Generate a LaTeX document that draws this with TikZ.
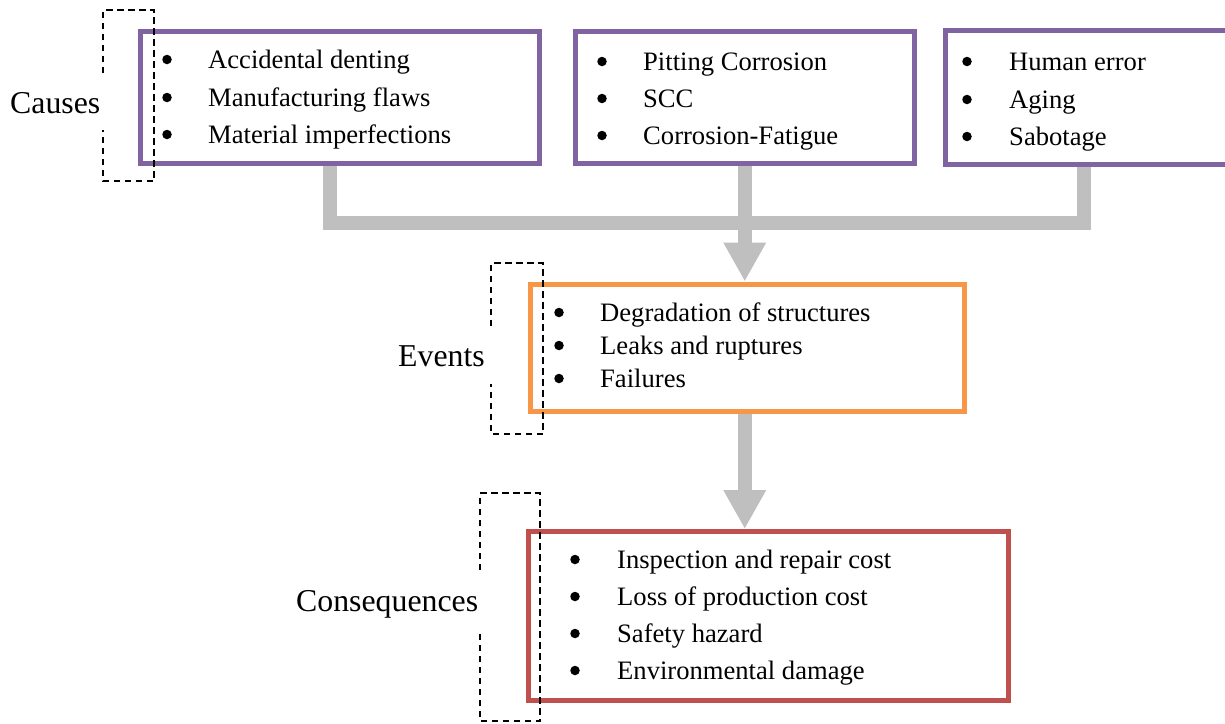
\documentclass[tikz,border=0pt]{standalone}
\usepackage{fontspec}
\setmainfont{Liberation Serif}
\usetikzlibrary{arrows.meta}
\definecolor{cpurple}{HTML}{8064A2}
\definecolor{corange}{HTML}{F79646}
\definecolor{cred}{HTML}{C0504D}
\definecolor{cgray}{HTML}{BFBFBF}
\tikzset{
  box/.style={draw, line width=5pt, inner sep=0pt, fill=none},
  txt/.style={anchor=base west, inner sep=0pt, font=\fontsize{26.6}{30}\selectfont},
  bul/.style={circle, fill=black, inner sep=0pt, minimum size=9.5pt, yshift=8.5pt},
  lbl/.style={anchor=base west, inner sep=0pt, font=\fontsize{31.8}{36}\selectfont},
  brk/.style={draw=black, line width=1.8pt, dash pattern=on 6.5pt off 4.5pt},
  conn/.style={draw=cgray, line width=14pt, line cap=butt, line join=miter},
  arr/.style={conn, -{Triangle[width=40pt,length=39pt]}, cgray}
}
\begin{document}
\begin{tikzpicture}[x=1pt,y=-1pt]
\useasboundingbox (0,0) rectangle (1225,723);
% boxes
\node[box, draw=cpurple, minimum width=398.5pt, minimum height=132pt] (c1) at (339.75,97) {};
\node[box, draw=cpurple, minimum width=338.5pt, minimum height=132pt] (c2) at (744.75,97) {};
\node[box, draw=cpurple, minimum width=290pt, minimum height=133.5pt] (c3) at (1090.5,97.25) {};
\node[box, draw=corange, minimum width=434pt, minimum height=127pt] (ev) at (747.5,347.5) {};
\node[box, draw=cred, minimum width=480pt, minimum height=169pt] (cq) at (768.5,616) {};
% connectors
\coordinate (jL) at (330,222.5);
\coordinate (jR) at (1084,222.5);
\draw[conn] (c1.south -| jL) -- (jL) -- (jR) -- (c3.south -| jR);
\draw[arr] (c2.south) -- (c2.south |- ev.north);
\draw[arr] (ev.south -| c2.south) -- (cq.north -| c2.south);
% dashed brackets
\draw[brk] (103,73) -- (103,10) -- (154,10) -- (154,181) -- (103,181) -- (103,130);
\draw[brk] (491,326) -- (491,263) -- (543,263) -- (543,434) -- (491,434) -- (491,384);
\draw[brk] (480,570) -- (480,493) -- (540,493) -- (540,721) -- (480,721) -- (480,633);
% labels
\node[lbl] (l1) at (10,113) {Causes};
\node[lbl] (l2) at (398,366) {Events};
\node[lbl] (l3) at (296,611) {Consequences};
% box 1
\node[bul] (b11) at (167,68) {};
\node[bul] (b12) at (167,106) {};
\node[bul] (b13) at (167,143) {};
\node[txt] (t11) at (208,68) {Accidental denting};
\node[txt] (t12) at (208,106) {Manufacturing flaws};
\node[txt] (t13) at (208,143) {Material imperfections};
% box 2
\node[bul] (b21) at (602,70) {};
\node[bul] (b22) at (602,107) {};
\node[bul] (b23) at (602,144) {};
\node[txt] (t21) at (643,70) {Pitting Corrosion};
\node[txt] (t22) at (643,107) {SCC};
\node[txt] (t23) at (643,144) {Corrosion-Fatigue};
% box 3
\node[bul] (b31) at (967,70) {};
\node[bul] (b32) at (967,108) {};
\node[bul] (b33) at (967,145) {};
\node[txt] (t31) at (1009,70) {Human error};
\node[txt] (t32) at (1009,108) {Aging};
\node[txt] (t33) at (1009,145) {Sabotage};
% events
\node[bul] (b41) at (559,321) {};
\node[bul] (b42) at (559,354) {};
\node[bul] (b43) at (559,387) {};
\node[txt] (t41) at (600,321) {Degradation of structures};
\node[txt] (t42) at (600,354) {Leaks and ruptures};
\node[txt] (t43) at (600,387) {Failures};
% consequences
\node[bul] (b51) at (575,568) {};
\node[bul] (b52) at (575,605) {};
\node[bul] (b53) at (575,642) {};
\node[bul] (b54) at (575,679) {};
\node[txt] (t51) at (617,568) {Inspection and repair cost};
\node[txt] (t52) at (617,605) {Loss of production cost};
\node[txt] (t53) at (617,642) {Safety hazard};
\node[txt] (t54) at (617,679) {Environmental damage};
\end{tikzpicture}
\end{document}
